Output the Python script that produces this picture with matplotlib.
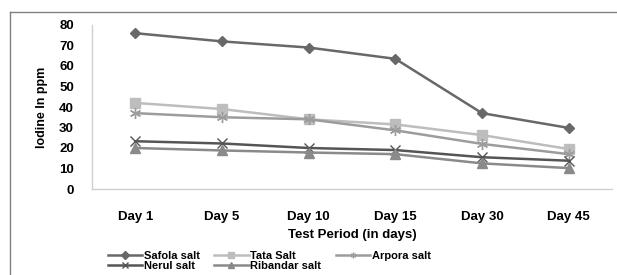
import matplotlib
matplotlib.use('agg')
import matplotlib.pyplot as plt
from matplotlib.lines import Line2D

plt.rcParams['font.family'] = ['Liberation Sans', 'DejaVu Sans']
plt.rcParams['font.weight'] = 'bold'
plt.rcParams['axes.labelweight'] = 'bold'

days = ['Day 1', 'Day 5', 'Day 10', 'Day 15', 'Day 30', 'Day 45']
safola = [76, 72, 69, 63.5, 37, 29.8]
tata = [42, 39, 34, 31.5, 26.3, 19.5]
arpora = [37, 35, 34, 28.6, 22, 17]
nerul = [23.3, 22.2, 20, 19, 15.5, 13.8]
ribandar = [20, 18.8, 17.8, 17, 12.5, 10.2]

series = [
    ('Safola salt', safola, '#686868', 'D', 5),
    ('Tata Salt', tata, '#bdbdbd', 's', 7),
    ('Arpora salt', arpora, '#9c9c9c', (6, 2, 0), 8),
    ('Nerul salt', nerul, '#555555', 'x', 7),
    ('Ribandar salt', ribandar, '#8a8a8a', '^', 7),
]

fig = plt.figure(figsize=(6.17, 2.75), dpi=100)
ax = fig.add_axes([92/617, 1-189/275, 520/617, 164/275])
x = range(len(days))
lines = {}
for name, vals, col, mk, ms in series:
    ln, = ax.plot(x, vals, color=col, lw=1.8, marker=mk, markersize=ms,
                  markeredgecolor=col, markerfacecolor=col, label=name)
    lines[name] = ln

ax.set_xlim(-0.5, len(days) - 0.5)
ax.set_ylim(0, 80)
ax.set_yticks(range(0, 81, 10))
ax.set_xticks(list(x))
ax.set_xticklabels(days)
ax.tick_params(axis='y', length=0, pad=13, labelsize=9.5)
ax.tick_params(axis='x', length=0, pad=16, labelsize=9.5)
for s in ['top', 'right']:
    ax.spines[s].set_visible(False)
for s in ['left', 'bottom']:
    ax.spines[s].set_color('#d0d0d0')
    ax.spines[s].set_linewidth(1)
ax.set_ylabel('Iodine In ppm', fontsize=9, labelpad=8)
ax.set_xlabel('Test Period (in days)', fontsize=9.5, labelpad=4)

# row-wise order for a 3-column legend
order = ['Safola salt', 'Nerul salt', 'Tata Salt', 'Ribandar salt', 'Arpora salt']
leg = fig.legend([lines[n] for n in order], order, loc='upper left',
                 bbox_to_anchor=(102/617, 1-245/275), ncol=3,
                 frameon=False, fontsize=8, handlelength=3.1, handletextpad=0.15,
                 columnspacing=1.3, labelspacing=0.0, borderpad=0)
for h in leg.legend_handles:
    h.set_markersize(4)

fig.add_artist(Line2D([10/617, 10/617], [0, 1-12/275], color='#808080', lw=1))
fig.add_artist(Line2D([10/617, 1], [1-12/275, 1-12/275], color='#808080', lw=1))

fig.savefig('out.png', dpi=100)
